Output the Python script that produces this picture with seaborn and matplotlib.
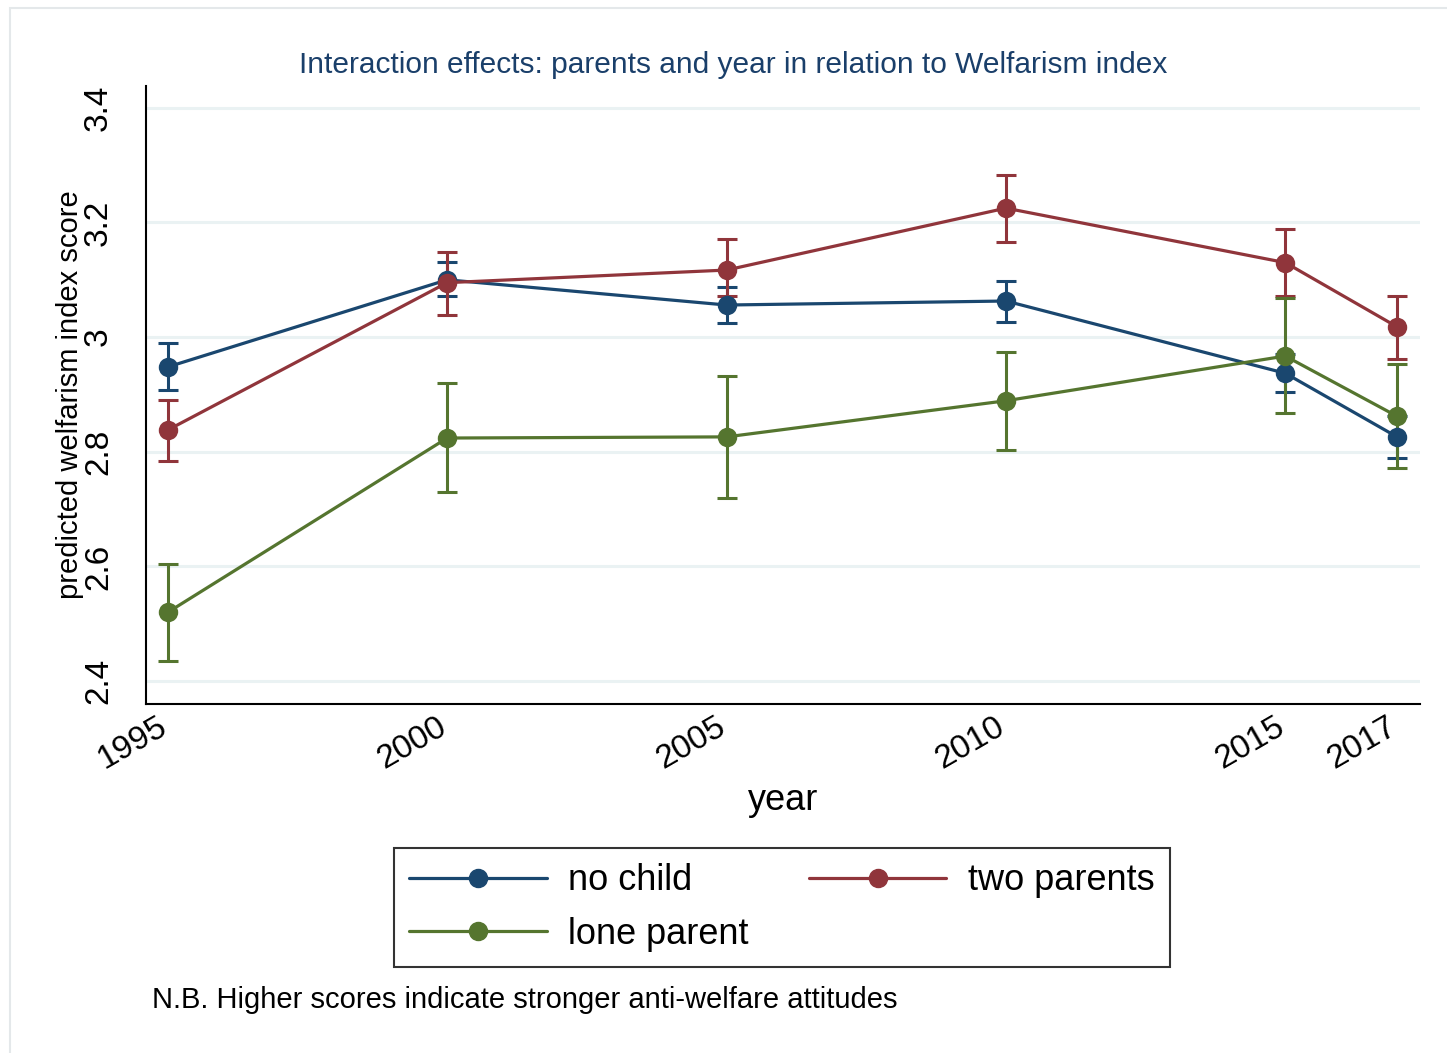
import numpy as np
import pandas as pd
import matplotlib
matplotlib.use("Agg")
import matplotlib.pyplot as plt
import matplotlib.transforms as mtransforms
import seaborn as sns

# values
years = [1995, 2000, 2005, 2010, 2015, 2017]
groups = ["no child", "two parents", "lone parent"]

no_child = [2.948, 3.100, 3.056, 3.063, 2.937, 2.826]
no_child_lo = [2.908, 3.072, 3.025, 3.027, 2.904, 2.789]
no_child_hi = [2.990, 3.131, 3.088, 3.098, 2.970, 2.863]

two_parents = [2.838, 3.095, 3.117, 3.225, 3.130, 3.018]
two_parents_lo = [2.784, 3.039, 3.072, 3.166, 3.072, 2.962]
two_parents_hi = [2.890, 3.149, 3.171, 3.283, 3.189, 3.072]

lone_parent = [2.520, 2.824, 2.826, 2.889, 2.967, 2.862]
lone_parent_lo = [2.435, 2.730, 2.719, 2.803, 2.868, 2.772]
lone_parent_hi = [2.604, 2.920, 2.932, 2.974, 3.068, 2.953]

colors = {"no child": "#1a476f", "two parents": "#90353b", "lone parent": "#55752f"}

df = pd.DataFrame({
    "year": years * 3,
    "group": np.repeat(groups, len(years)),
    "score": no_child + two_parents + lone_parent,
    "lo": no_child_lo + two_parents_lo + lone_parent_lo,
    "hi": no_child_hi + two_parents_hi + lone_parent_hi,
})

sns.set_style("white")
plt.rcParams["font.family"] = ["Liberation Sans", "DejaVu Sans"]
plt.rcParams["text.color"] = "black"
plt.rcParams["axes.labelcolor"] = "black"
plt.rcParams["xtick.color"] = "black"
plt.rcParams["ytick.color"] = "black"

fig = plt.figure(figsize=(14.47, 10.53), dpi=100)
# faint outer frame like the Stata graph region
fig.patches.append(plt.Rectangle((0.007, -0.01), 1.0, 1.002, transform=fig.transFigure,
                                 fill=False, edgecolor="#e4e8ea", linewidth=1.5))
ax = fig.add_axes([0.1009, 0.3314, 0.8804, 0.5869])

for y in [2.4, 2.6, 2.8, 3.0, 3.2, 3.4]:
    ax.axhline(y, color="#eaf2f3", linewidth=2.2, zorder=0)

# error bars
for g in groups:
    sub = df[df["group"] == g]
    ax.errorbar(sub["year"], sub["score"],
                yerr=[sub["score"] - sub["lo"], sub["hi"] - sub["score"]],
                fmt="none", ecolor=colors[g], elinewidth=2.2, capsize=7,
                capthick=2.2, zorder=2)

sns.lineplot(data=df, x="year", y="score", hue="group", hue_order=groups,
             palette=colors, marker="o", markersize=14, markeredgewidth=0,
             linewidth=2.3, ax=ax, zorder=3, legend=False)

ax.set_xlim(1994.61, 2017.41)
ax.set_ylim(2.36, 3.438)
ax.set_xticks(years)
ax.set_xticklabels([str(y) for y in years], rotation=30, ha="right",
                   rotation_mode="anchor", fontsize=24)
ax.set_yticks([2.4, 2.6, 2.8, 3.0, 3.2, 3.4])
ax.set_yticklabels(["2.4", "2.6", "2.8", "3", "3.2", "3.4"], rotation=90,
                   va="center", fontsize=24)
ax.tick_params(axis="y", direction="out", length=11, width=1.5, pad=12)
ax.tick_params(axis="x", direction="out", length=8.5, width=1.5, pad=0)
shift = mtransforms.ScaledTranslation(-0.11, 0.05, fig.dpi_scale_trans)
for lab in ax.get_xticklabels():
    lab.set_transform(lab.get_transform() + shift)

for s in ["top", "right"]:
    ax.spines[s].set_visible(False)
for s in ["left", "bottom"]:
    ax.spines[s].set_color("black")
    ax.spines[s].set_linewidth(1.5)

ax.set_xlabel("year", fontsize=26, va="top")
ax.xaxis.set_label_coords(0.5, -0.128)
ax.set_ylabel("predicted welfarism index score", fontsize=21)
ax.yaxis.set_label_coords(-0.049, 0.5)

fig.text(0.5066, 0.9304,
         "Interaction effects: parents and year in relation to Welfarism index",
         fontsize=21.5, color="#1a3f6a", ha="center", va="baseline")

handles = [plt.Line2D([], [], color=colors[g], marker="o", markersize=13,
                      linewidth=2.3) for g in ["no child", "lone parent", "two parents"]]
leg = fig.legend(handles, ["no child", "lone parent", "two parents"], ncol=2,
                 loc="center", bbox_to_anchor=(0.5404, 0.1382),
                 fontsize=26, frameon=True, fancybox=False, handlelength=3.8,
                 handletextpad=0.6, columnspacing=1.67, labelspacing=0.5,
                 borderpad=0.42, borderaxespad=0)
leg.get_frame().set_edgecolor("black")
leg.get_frame().set_linewidth(1.5)

fig.text(152 / 1447, 0.0427, "N.B. Higher scores indicate stronger anti-welfare attitudes",
         fontsize=21, va="baseline")

fig.savefig("out.png", dpi=100, facecolor="white")
